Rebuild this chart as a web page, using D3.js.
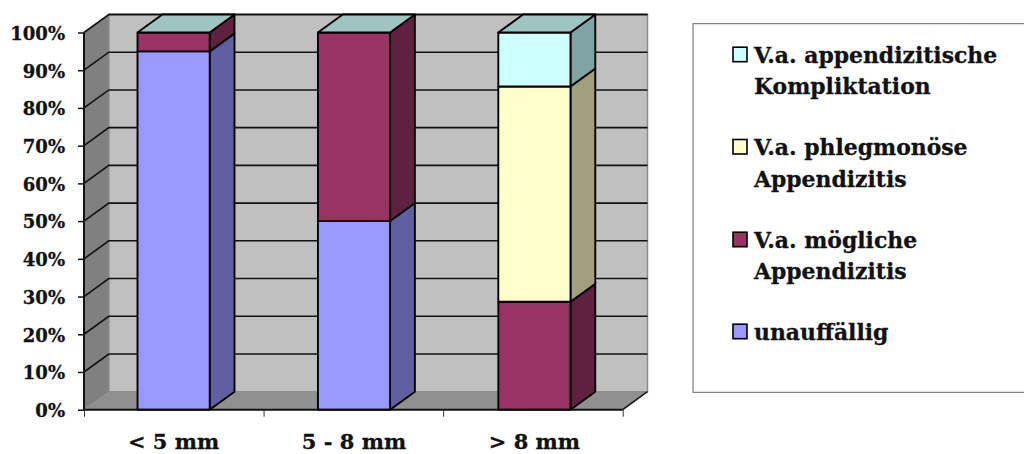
<!DOCTYPE html>
<html>
<head>
    <meta charset="utf-8">
    <title>Appendizitis nach Durchmesser</title>
    <script src="https://d3js.org/d3.v7.min.js"></script>
    <style>
        html, body { margin: 0; padding: 0; background: #fff; overflow: hidden; }
        svg { display: block; }
        text { font-family: "DejaVu Serif", serif; font-weight: bold; fill: #111; stroke: #111; stroke-width: 0.3; }
    </style>
</head>
<body>
    <div id="chart"></div>
    <script>
        const categories = ["< 5 mm", "5 - 8 mm", "> 8 mm"];
        const unauffaellig = [95, 50, 0];
        const moeglich = [5, 50, 28.6];
        const phlegmonoes = [0, 0, 57.1];
        const komplikation = [0, 0, 14.3];
        const yTicks = [0, 10, 20, 30, 40, 50, 60, 70, 80, 90, 100];

        const frontColors = ["#9999ff", "#993366", "#ffffcc", "#ccffff"];
        const sideColors = ["#6060a0", "#60203f", "#a0a080", "#80a4a4"];
        const topColor = "#9ec5c2";

        const width = 1024, height = 454;
        const plotLeft = 84, plotRight = 622.7, plotBottom = 409.7, plotTop = 32.5;
        const dx = 24.8, dy = -18;

        const rows = categories.map((c, i) => ({
            category: c,
            s0: unauffaellig[i], s1: moeglich[i], s2: phlegmonoes[i], s3: komplikation[i]
        }));
        const stacked = d3.stack().keys(["s0", "s1", "s2", "s3"])(rows);

        const x = d3.scaleBand().domain(categories).range([83.4, 624.6]).paddingInner(0.6).paddingOuter(0.3);
        const xEdges = d3.scaleLinear().domain([0, categories.length]).range([plotLeft, plotRight]);
        const y = d3.scaleLinear().domain([0, 100]).range([plotBottom, plotTop]);

        const svg = d3.select("#chart").append("svg").attr("width", width).attr("height", height);
        const poly = pts => pts.map(p => p.join(",")).join(" ");

        // walls
        svg.append("polygon")
            .attr("points", poly([[plotLeft + dx, plotTop + dy], [plotRight + dx, plotTop + dy], [plotRight + dx, plotBottom + dy], [plotLeft + dx, plotBottom + dy]]))
            .attr("fill", "#c0c0c0").attr("stroke", "#8c8c8c").attr("stroke-width", 1.5);
        svg.append("polygon")
            .attr("points", poly([[plotLeft, plotTop], [plotLeft + dx, plotTop + dy], [plotLeft + dx, plotBottom + dy], [plotLeft, plotBottom]]))
            .attr("fill", "#808080").attr("stroke", "#8c8c8c").attr("stroke-width", 1);
        svg.append("polygon")
            .attr("points", poly([[plotLeft, plotBottom], [plotLeft + dx, plotBottom + dy], [plotRight + dx, plotBottom + dy], [plotRight, plotBottom]]))
            .attr("fill", "#909090");

        // gridlines on back and side wall
        const grid = svg.append("g").attr("stroke", "#111").attr("stroke-width", 1.6).attr("fill", "none");
        grid.selectAll("path").data(yTicks.filter(d => d > 0)).join("path")
            .attr("d", d => `M${plotLeft},${y(d)}L${plotLeft + dx},${y(d) + dy}L${plotRight + dx},${y(d) + dy}`);
        svg.append("line")
            .attr("x1", plotLeft + dx).attr("y1", plotTop + dy).attr("x2", plotRight + dx).attr("y2", plotTop + dy)
            .attr("stroke", "#111").attr("stroke-width", 1.6);
        svg.append("line")
            .attr("x1", plotRight).attr("y1", plotBottom).attr("x2", plotRight + dx).attr("y2", plotBottom + dy)
            .attr("stroke", "#111").attr("stroke-width", 1.5);

        // bars
        const bars = svg.append("g").attr("stroke", "#000").attr("stroke-width", 1.9).attr("stroke-linejoin", "round");
        categories.forEach((c, i) => {
            const x0 = x(c), x1 = x0 + x.bandwidth();
            stacked.forEach((s, k) => {
                const [a, b] = s[i];
                if (b - a <= 0) return;
                bars.append("polygon")
                    .attr("points", poly([[x1, y(a)], [x1 + dx, y(a) + dy], [x1 + dx, y(b) + dy], [x1, y(b)]]))
                    .attr("fill", sideColors[k]);
                bars.append("polygon")
                    .attr("points", poly([[x0, y(a)], [x1, y(a)], [x1, y(b)], [x0, y(b)]]))
                    .attr("fill", frontColors[k]);
            });
            const t = stacked[stacked.length - 1][i][1];
            bars.append("polygon")
                .attr("points", poly([[x0, y(t)], [x1, y(t)], [x1 + dx, y(t) + dy], [x0 + dx, y(t) + dy]]))
                .attr("fill", topColor);
        });

        // axes
        const yAxis = svg.append("g").attr("transform", `translate(${plotLeft},0)`)
            .call(d3.axisLeft(y).tickValues(yTicks).tickFormat(d => d + "%").tickSize(6).tickPadding(13));
        yAxis.selectAll("path").attr("stroke", "#111").attr("stroke-width", 2).attr("d", `M0,${plotTop}V${plotBottom}`);
        yAxis.selectAll("line").attr("stroke", "#111").attr("stroke-width", 1.5);
        yAxis.selectAll("text").attr("font-size", 18).attr("dy", "0.38em");
        yAxis.attr("font-family", null).attr("font-size", null);

        const xAxis = svg.append("g").attr("transform", `translate(0,${plotBottom})`)
            .call(d3.axisBottom(xEdges).ticks(categories.length).tickFormat("").tickSize(7));
        xAxis.selectAll("path").attr("stroke", "#111").attr("stroke-width", 2).attr("d", `M${plotLeft},0H${plotRight}`);
        xAxis.selectAll("line").attr("stroke", "#333").attr("stroke-width", 1);

        svg.append("g").selectAll("text").data(categories).join("text")
            .attr("x", d => x(d) + x.bandwidth() / 2).attr("y", 449)
            .attr("text-anchor", "middle").attr("font-size", 21).text(d => d);

        // legend
        svg.append("rect").attr("x", 693).attr("y", 23.7).attr("width", 340).attr("height", 368.6)
            .attr("fill", "#fff").attr("stroke", "#666").attr("stroke-width", 1);
        const legendEntries = [
            { k: 3, base: 62.7, lines: ["V.a. appendizitische", "Kompliktation"] },
            { k: 2, base: 155, lines: ["V.a. phlegmonöse", "Appendizitis"] },
            { k: 1, base: 247.7, lines: ["V.a. mögliche", "Appendizitis"] },
            { k: 0, base: 339.7, lines: ["unauffällig"] }
        ];
        const legend = svg.append("g");
        legendEntries.forEach(e => {
            legend.append("rect").attr("x", 733).attr("y", e.base - 15.5).attr("width", 14).attr("height", 14.5)
                .attr("fill", frontColors[e.k]).attr("stroke", "#000").attr("stroke-width", 1.6);
            e.lines.forEach((l, j) => {
                legend.append("text").attr("x", 754).attr("y", e.base + j * 31.7)
                    .attr("font-size", 21.9).text(l);
            });
        });
    </script>
</body>
</html>
